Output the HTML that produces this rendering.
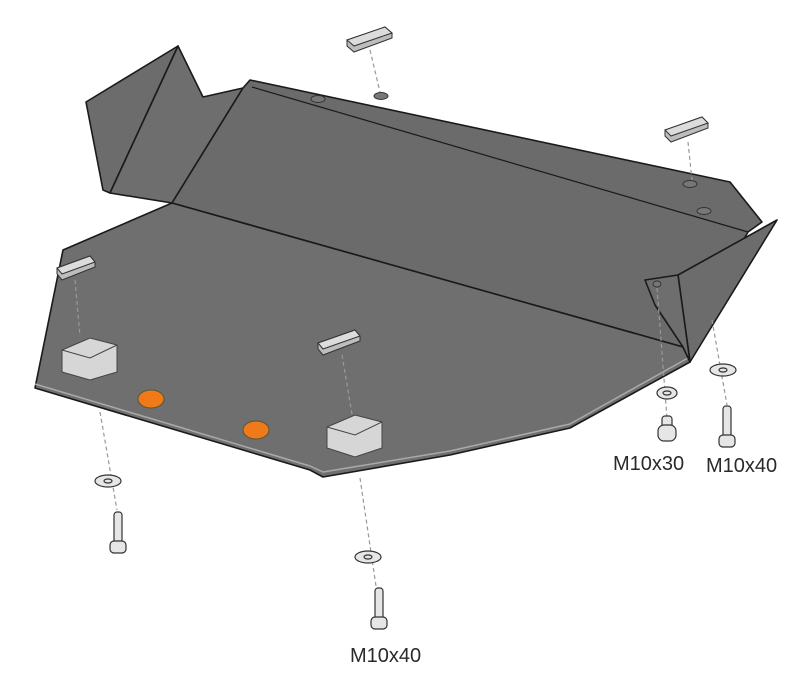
<!DOCTYPE html>
<html><head><meta charset="utf-8"><style>
html,body{margin:0;padding:0;background:#fff;}
svg{display:block}
text{font-family:"Liberation Sans",sans-serif;font-size:20px;fill:#2a2a2a;}
</style></head><body>
<svg width="800" height="687" viewBox="0 0 800 687" xmlns="http://www.w3.org/2000/svg">
<g stroke="#1a1a1a" stroke-width="1.6" stroke-linejoin="round">
<polygon points="86,102 178,46 110,193 103,190" fill="#6c6c6c"/>
<polygon points="178,46 203,97 243,88 172,203 110,193" fill="#6e6e6e"/>
<polygon points="243,88 250,80 730,182 762,222 748,232 683,347 172,203" fill="#6b6b6b"/>
<line x1="252" y1="87" x2="748" y2="232" stroke-width="1.2"/>
<polygon points="172,203 683,347 690,362 570,428 450,455 323,477 310,470 35,388 63,250" fill="#6f6f6f"/>
<polyline points="35,384 310,466 323,472 450,451 570,424 688,358" fill="none" stroke="#aaa" stroke-width="1.5"/>
<polygon points="678,275 777,220 690,362" fill="#6c6c6c"/>
<polygon points="678,275 645,280 655,305 683,347 690,362" fill="#6e6e6e"/>
</g>
<g fill="#777" stroke="#333" stroke-width="1">
<ellipse cx="318" cy="99" rx="7" ry="3.5"/>
<ellipse cx="381" cy="96" rx="7" ry="3.5"/>
<ellipse cx="690" cy="184" rx="7" ry="3.5"/>
<ellipse cx="704" cy="211" rx="7" ry="3.5"/>
<ellipse cx="657" cy="284" rx="4" ry="3"/>
</g>
<g stroke="#333" stroke-width="1">
<polygon points="347,40 385,27 392,33 392,38 354,52 347,46" fill="#bdbdbd"/>
<polygon points="347,40 385,27 392,33 354,46" fill="#dcdcdc"/>
<polygon points="665,130 702,117 708,123 708,128 671,142 665,136" fill="#bdbdbd"/>
<polygon points="665,130 702,117 708,123 671,136" fill="#dcdcdc"/>
<polygon points="57,268 90,256 95,262 95,267 62,280 57,274" fill="#bdbdbd"/>
<polygon points="57,268 90,256 95,262 62,274" fill="#dcdcdc"/>
<polygon points="318,343 355,330 360,336 360,341 323,355 318,349" fill="#bdbdbd"/>
<polygon points="318,343 355,330 360,336 323,349" fill="#dcdcdc"/>
</g>
<g stroke="#444" stroke-width="1">
<polygon points="62,350 90,338 117,345 117,372 90,380 62,372" fill="#d6d6d6"/>
<polyline points="62,350 90,358 117,345 M90,358 90,380" fill="none"/>
<polygon points="327,427 355,415 382,422 382,448 355,457 327,448" fill="#d6d6d6"/>
<polyline points="327,427 355,435 382,422 M355,435 355,457" fill="none"/>
</g>
<ellipse cx="151" cy="399" rx="13" ry="9" fill="#f07a1a" stroke="#553" stroke-width="1"/>
<ellipse cx="256" cy="430" rx="13" ry="9" fill="#f07a1a" stroke="#553" stroke-width="1"/>
<g stroke="#999" stroke-width="1.2" stroke-dasharray="4,3" fill="none">
<line x1="370" y1="50" x2="380" y2="92"/>
<line x1="688" y1="142" x2="692" y2="180"/>
<line x1="75" y1="280" x2="80" y2="336"/>
<line x1="342" y1="355" x2="352" y2="414"/>
<line x1="100" y1="412" x2="117" y2="510"/>
<line x1="360" y1="478" x2="376" y2="586"/>
<line x1="657" y1="288" x2="667" y2="418"/>
<line x1="712" y1="320" x2="727" y2="405"/>
</g>
<g fill="#e6e6e6" stroke="#333" stroke-width="1.2">
<ellipse cx="108" cy="481" rx="13" ry="6"/><ellipse cx="108" cy="481" rx="4" ry="2"/>
<ellipse cx="368" cy="557" rx="13" ry="6"/><ellipse cx="368" cy="557" rx="4" ry="2"/>
<ellipse cx="667" cy="393" rx="10" ry="6"/><ellipse cx="667" cy="393" rx="4" ry="2"/>
<ellipse cx="723" cy="370" rx="13" ry="6"/><ellipse cx="723" cy="370" rx="4" ry="2"/>
<rect x="114" y="512" width="8" height="32" rx="3"/><rect x="110" y="541" width="16" height="12" rx="4"/>
<rect x="375" y="588" width="8" height="32" rx="3"/><rect x="371" y="617" width="16" height="12" rx="4"/>
<rect x="723" y="406" width="8" height="32" rx="3"/><rect x="719" y="435" width="16" height="12" rx="4"/>
<rect x="662" y="416" width="10" height="12" rx="3"/><rect x="658" y="425" width="18" height="16" rx="6"/>
</g>
<text x="613" y="470">M10x30</text>
<text x="706" y="472">M10x40</text>
<text x="350" y="662">M10x40</text>
</svg>
</body></html>
